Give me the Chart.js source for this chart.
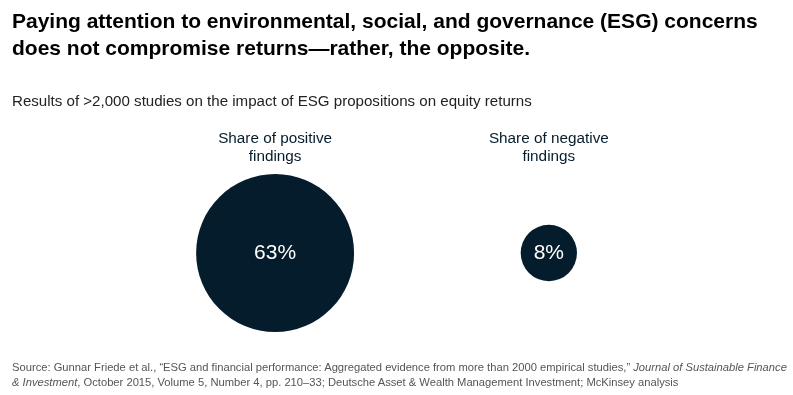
<!DOCTYPE html>
<html>
<head>
<meta charset="utf-8">
<script src="https://cdn.jsdelivr.net/npm/chart.js@4"></script>
<style>
  html, body { margin: 0; padding: 0; background: #fff; }
  body { width: 793px; height: 395px; position: relative; overflow: hidden; font-family: "Liberation Sans", Arial, sans-serif; }
  #titulo { position: absolute; left: 12px; top: 7px; width: 790px; font-size: 21px; font-weight: bold; line-height: 27px; color: #000; white-space: nowrap; }
  #subtitulo { position: absolute; left: 12px; top: 92px; font-size: 15.1px; color: #222; white-space: nowrap; }
  #fuente { position: absolute; left: 12px; top: 360px; width: 785px; font-size: 11.2px; line-height: 15px; color: #555; white-space: nowrap; }
  #grafica { position: absolute; left: 0; top: 0; }
</style>
</head>
<body>
<canvas id="grafica" width="793" height="395"></canvas>
<div id="titulo">Paying attention to environmental, social, and governance (ESG) concerns<br>does not compromise returns—rather, the opposite.</div>
<div id="subtitulo">Results of &gt;2,000 studies on the impact of ESG propositions on equity returns</div>
<div id="fuente">Source: Gunnar Friede et al., “ESG and financial performance: Aggregated evidence from more than 2000 empirical studies,” <i>Journal of Sustainable Finance<br>&amp; Investment</i>, October 2015, Volume 5, Number 4, pp. 210–33; Deutsche Asset &amp; Wealth Management Investment; McKinsey analysis</div>
<script>
const categorias = [["Share of positive", "findings"], ["Share of negative", "findings"]];
const porcentajes = [63, 8];

const colorCirculo = "#051c2c";

const etiquetasPlugin = {
  id: "etiquetas",
  afterDatasetsDraw(chart) {
    const ctx = chart.ctx;
    const meta = chart.getDatasetMeta(0);
    ctx.save();
    ctx.textAlign = "center";
    ctx.textBaseline = "middle";
    meta.data.forEach((punto, i) => {
      ctx.fillStyle = "#fff";
      ctx.font = "21px 'Liberation Sans', sans-serif";
      ctx.fillText(porcentajes[i] + "%", punto.x, punto.y);
      ctx.fillStyle = "#051c2c";
      ctx.font = "15.3px 'Liberation Sans', sans-serif";
      categorias[i].forEach((linea, j) => {
        ctx.fillText(linea, punto.x, 139 + j * 18);
      });
    });
    ctx.restore();
  }
};

new Chart(document.getElementById("grafica").getContext("2d"), {
  type: "bubble",
  data: {
    datasets: [{
      data: porcentajes.map((v, i) => ({ x: i + 1, y: 0, v })),
      backgroundColor: colorCirculo,
      borderWidth: 0,
      radius: ctx => Math.sqrt(ctx.raw.v) * 9.95,
      hoverRadius: 0
    }]
  },
  options: {
    responsive: false,
    animation: false,
    events: [],
    layout: { autoPadding: false, padding: { top: 111, left: 0, right: 0, bottom: 0 } },
    plugins: { legend: { display: false }, tooltip: { enabled: false } },
    scales: {
      x: { type: "linear", display: false, min: -0.005, max: 2.892 },
      y: { type: "linear", display: false, min: -1, max: 1 }
    }
  },
  plugins: [etiquetasPlugin]
});
</script>
</body>
</html>
